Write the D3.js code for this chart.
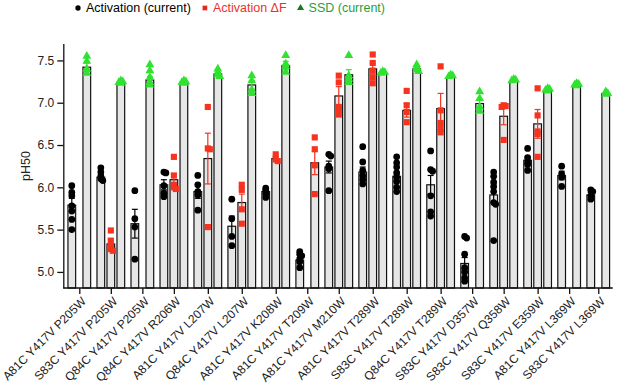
<!DOCTYPE html>
<html>
<head>
<meta charset="utf-8">
<script src="https://cdn.jsdelivr.net/npm/d3@7"></script>
<style>
  body { margin: 0; background: #fff; }
  text { font-family: "Liberation Sans", Arial, sans-serif; }
</style>
</head>
<body>
<div id="chart"></div>
<script>
var categories = ["A81C Y417V P205W", "S83C Y417V P205W", "Q84C Y417V P205W", "Q84C Y417V R206W",
    "A81C Y417V L207W", "Q84C Y417V L207W", "A81C Y417V K208W", "A81C Y417V T209W",
    "A81C Y417V M210W", "A81C Y417V T289W", "S83C Y417V T289W", "Q84C Y417V T289W",
    "S83C Y417V D357W", "S83C Y417V Q358W", "S83C Y417V E359W", "A81C Y417V L369W",
    "S83C Y417V L369W"];

// Activation (current)
var actMean = [5.79, 6.12, 5.57, 6.03, 5.95, 5.54, 5.95, 5.14, 6.24, 6.18, 6.13, 6.03, 5.10, 5.91, 6.32, 6.14, 5.91];
var actSem = [0.08, 0.03, 0.17, 0.06, 0.08, 0.12, 0.02, 0.03, 0.07, 0.06, 0.05, 0.11, 0.07, 0.09, 0.04, 0.05, 0.03];
var actPts = [
    [6.02, 5.94, 5.90, 5.78, 5.72, 5.62, 5.50],
    [6.23, 6.18, 6.13, 6.10, 6.08],
    [5.96, 5.63, 5.53, 5.15],
    [6.18, 6.17, 6.02, 5.93, 5.89],
    [6.14, 6.03, 5.95, 5.91, 5.73],
    [5.86, 5.63, 5.42, 5.31],
    [5.99, 5.96, 5.92, 5.88],
    [5.24, 5.21, 5.19, 5.15, 5.12, 5.05],
    [6.39, 6.37, 6.25, 6.22, 5.96],
    [6.48, 6.30, 6.20, 6.14, 6.09, 6.04],
    [6.36, 6.29, 6.24, 6.17, 6.12, 6.07, 6.00, 5.95],
    [6.43, 6.21, 6.19, 5.90, 5.71, 5.66],
    [5.42, 5.40, 5.21, 5.05, 5.00, 4.93, 4.89],
    [6.18, 6.13, 6.06, 6.01, 5.95, 5.82, 5.80, 5.37],
    [6.46, 6.35, 6.30, 6.27, 6.20],
    [6.25, 6.16, 6.12, 6.01],
    [5.97, 5.95, 5.90, 5.86]
];

// Activation dF (null = not measured)
var dfMean = [null, 5.33, null, 6.09, 6.34, 5.82, 6.34, 6.29, 7.08, 7.40, 6.91, 6.93, null, 6.84, 6.75, null, null];
var dfSem = [null, 0.05, null, 0.07, 0.30, 0.10, 0.03, 0.14, 0.11, 0.06, 0.08, 0.18, null, 0.10, 0.17, null, null];
var dfPts = [
    [],
    [5.49, 5.37, 5.31, 5.27, 5.25],
    [],
    [6.36, 6.14, 6.03, 6.00, 5.98],
    [6.95, 6.46, 6.45, 5.53],
    [6.03, 5.97, 5.74, 5.57],
    [6.39, 6.33, 6.31],
    [6.59, 6.45, 6.26, 5.92],
    [7.32, 7.24, 6.95, 6.92, 6.86],
    [7.57, 7.47, 7.38, 7.30, 7.23],
    [7.14, 6.97, 6.89, 6.77],
    [7.43, 6.91, 6.76, 6.69, 6.65],
    [],
    [6.97, 6.96, 6.95, 6.56],
    [7.17, 6.85, 6.66, 6.63, 6.36],
    [],
    []
];

// SSD (current)
var ssdMean = [7.42, 7.24, 7.27, 7.24, 7.34, 7.21, 7.44, null, 7.33, 7.35, 7.40, 7.31, 6.99, 7.26, 7.15, 7.21, 7.11];
var ssdSem = [0.05, 0.01, 0.04, 0.01, 0.02, 0.05, 0.05, null, 0.06, 0.01, 0.01, 0.01, 0.05, 0.01, 0.01, 0.01, 0.01];
var ssdPts = [
    [7.55, 7.49, 7.40, 7.35],
    [7.26, 7.25, 7.24, 7.23],
    [7.45, 7.38, 7.30, 7.24, 7.21],
    [7.26, 7.25, 7.24, 7.23],
    [7.40, 7.36, 7.33, 7.31],
    [7.32, 7.26, 7.15, 7.11],
    [7.56, 7.46, 7.43, 7.36],
    [],
    [7.56, 7.32, 7.28, 7.24],
    [7.37, 7.36, 7.35],
    [7.45, 7.42, 7.39, 7.37],
    [7.33, 7.32, 7.31],
    [7.13, 7.05, 6.95, 6.90],
    [7.28, 7.27, 7.26],
    [7.17, 7.16, 7.15, 7.14],
    [7.23, 7.22, 7.21, 7.20],
    [7.13, 7.11, 7.10]
];

var yTicks = [5.0, 5.5, 6.0, 6.5, 7.0, 7.5];

var series = [
    { key: "act", label: "Activation (current)", mean: actMean, sem: actSem, pts: actPts,
      color: "#000000", textColor: "#000000", legendColor: "#000000", symbol: d3.symbolCircle, size: 36 },
    { key: "df", label: "Activation \u0394F", mean: dfMean, sem: dfSem, pts: dfPts,
      color: "#f5331f", textColor: "#e8322c", legendColor: "#e8281e", symbol: d3.symbolSquare, size: 38 },
    { key: "ssd", label: "SSD (current)", mean: ssdMean, sem: ssdSem, pts: ssdPts,
      color: "#2fe22f", textColor: "#23a040", legendColor: "#157a22", symbol: d3.symbolTriangle, size: 34 }
];

var W = 617, H = 386;
var svg = d3.select("#chart").append("svg")
    .attr("width", W)
    .attr("height", H);

var y = d3.scaleLinear().domain([4.81, 7.7]).range([288, 43.5]);
var yBase = y.domain()[0];

// groups with fewer bars take a bit less room
var nPresent = categories.map(function(c, i) {
    return series.filter(function(s) { return s.mean[i] != null; }).length;
});
var weights = nPresent.map(function(n) { return 4 + n; });
var starts = [0].concat(Array.from(d3.cumsum(weights)));
var xu = d3.scaleLinear().domain([0, d3.sum(weights)]).range([64.75, 612.8]);
var centers = categories.map(function(c, i) { return xu(starts[i] + weights[i] / 2); });
var xCat = d3.scaleOrdinal().domain(categories).range(centers);

var barW = 7.7;
var bars = [];
categories.forEach(function(c, i) {
    var present = series.filter(function(s) { return s.mean[i] != null; });
    var inner = d3.scaleBand()
        .domain(present.map(function(s) { return s.key; }))
        .range([xCat(c) - 15, xCat(c) + 15]);
    present.forEach(function(s) {
        bars.push({ cat: c, s: s, cx: inner(s.key) + inner.bandwidth() / 2,
                    mean: s.mean[i], sem: s.sem[i], pts: s.pts[i] });
    });
});

// bars
svg.append("g").selectAll("rect")
    .data(bars)
    .enter()
    .append("rect")
    .attr("x", function(d) { return d.cx - barW / 2; })
    .attr("y", function(d) { return y(d.mean); })
    .attr("width", barW)
    .attr("height", function(d) { return y(yBase) - y(d.mean); })
    .attr("fill", "#e6e6e6")
    .attr("stroke", "#111")
    .attr("stroke-width", 1.2);

// error bars (mean +- SEM)
var eb = svg.append("g").selectAll("g")
    .data(bars)
    .enter()
    .append("g")
    .attr("stroke", function(d) { return d.s.color; })
    .attr("stroke-width", 1.2)
    .attr("fill", "none");

eb.append("line")
    .attr("x1", function(d) { return d.cx; })
    .attr("x2", function(d) { return d.cx; })
    .attr("y1", function(d) { return y(d.mean - d.sem); })
    .attr("y2", function(d) { return y(d.mean + d.sem); });
eb.append("line")
    .attr("x1", function(d) { return d.cx - 3; })
    .attr("x2", function(d) { return d.cx + 3; })
    .attr("y1", function(d) { return y(d.mean + d.sem); })
    .attr("y2", function(d) { return y(d.mean + d.sem); });
eb.append("line")
    .attr("x1", function(d) { return d.cx - 3; })
    .attr("x2", function(d) { return d.cx + 3; })
    .attr("y1", function(d) { return y(d.mean - d.sem); })
    .attr("y2", function(d) { return y(d.mean - d.sem); });

// individual points, nudged a little sideways when they sit on top of each other
var points = [];
bars.forEach(function(b) {
    var placed = [];
    b.pts.slice().sort(d3.descending).forEach(function(v) {
        var py = y(v);
        var offs = [0, 2, -2, 3.5, -3.5];
        var dx = 0;
        for (var k = 0; k < offs.length; k++) {
            var hit = placed.some(function(p) {
                return Math.abs(p.dx - offs[k]) < 2 && Math.abs(p.py - py) < 2.5;
            });
            if (!hit) { dx = offs[k]; break; }
        }
        placed.push({ dx: dx, py: py });
        points.push({ x: b.cx + dx, y: py, s: b.s });
    });
});

svg.append("g").selectAll("path")
    .data(points)
    .enter()
    .append("path")
    .attr("transform", function(d) { return "translate(" + d.x + "," + d.y + ")"; })
    .attr("d", function(d) { return d3.symbol().type(d.s.symbol).size(d.s.size)(); })
    .attr("fill", function(d) { return d.s.color; });

// y axis
var yAxis = svg.append("g")
    .attr("transform", "translate(63.3,0)")
    .call(d3.axisLeft(y).tickValues(yTicks).tickFormat(d3.format(".1f")).tickSize(6).tickSizeOuter(0));
yAxis.selectAll("path, line").attr("stroke", "#111").attr("stroke-width", 1.3);
yAxis.selectAll("text").attr("font-size", 12).attr("fill", "#222")
    .attr("font-family", "Liberation Sans, Arial, sans-serif");

svg.append("text")
    .attr("transform", "translate(30,166) rotate(-90)")
    .attr("text-anchor", "middle")
    .attr("font-size", 12.5)
    .attr("fill", "#222")
    .text("pH50");

// x axis
var xAxis = svg.append("g")
    .attr("transform", "translate(0,288)")
    .call(d3.axisBottom(xCat).tickSize(6).tickSizeOuter(0));
xAxis.select(".domain").remove();
xAxis.append("line")
    .attr("x1", 63.3).attr("x2", 612.8)
    .attr("y1", 0).attr("y2", 0);
xAxis.selectAll("line").attr("stroke", "#111").attr("stroke-width", 1.3);
xAxis.selectAll(".tick text")
    .attr("font-size", 12)
    .attr("fill", "#222")
    .attr("font-family", "Liberation Sans, Arial, sans-serif")
    .attr("text-anchor", "end")
    .attr("transform", "translate(4,11) rotate(-45)")
    .attr("y", 0)
    .attr("dy", "0.35em");

// legend
var lg = svg.append("g").attr("transform", "translate(0,8)");
var lx = 78;
series.forEach(function(s) {
    lg.append("path")
        .attr("transform", "translate(" + lx + ",0)")
        .attr("d", d3.symbol().type(s.symbol).size(22)())
        .attr("fill", s.legendColor);
    var t = lg.append("text")
        .attr("x", lx + 8)
        .attr("y", 0)
        .attr("dy", "0.35em")
        .attr("font-size", 12.5)
        .attr("fill", s.textColor)
        .text(s.label);
    lx += 8 + t.node().getComputedTextLength() + 14;
});
</script>
</body>
</html>
